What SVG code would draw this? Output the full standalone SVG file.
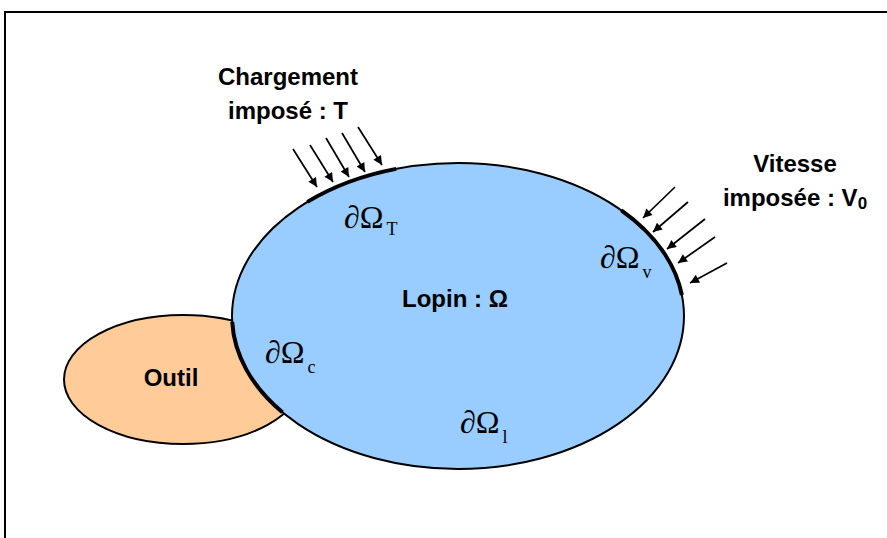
<svg xmlns="http://www.w3.org/2000/svg" width="887" height="538" viewBox="0 0 887 538">
<style>
.lbl{font-family:"Liberation Sans",Arial,sans-serif;font-weight:bold;font-size:24px;fill:#000;text-anchor:middle}
.math{font-family:"Liberation Serif","Times New Roman",serif;font-size:32px;fill:#000}
.sub{font-size:18px}
.bnd{fill:none;stroke:#000;stroke-width:4}
.arr{stroke:#000;stroke-width:1.7;fill:none;marker-end:url(#ah)}
</style>
<defs>
<marker id="ah" viewBox="0 0 10 10" refX="10" refY="5" markerWidth="12" markerHeight="9" markerUnits="userSpaceOnUse" orient="auto">
<path d="M0,0 L10,5 L0,10 z" fill="#000"/>
</marker>
</defs>
<rect width="887" height="538" fill="#fff"/>
<path d="M5,538 V12 H887" fill="none" stroke="#000" stroke-width="2"/>
<g id="outil">
<ellipse cx="183" cy="379.5" rx="119" ry="64.5" fill="#FFCC99" stroke="#000" stroke-width="2"/>
<text class="lbl" x="171" y="386">Outil</text>
</g>
<g id="lopin">
<ellipse cx="458" cy="316" rx="226" ry="153" fill="#99CCFF" stroke="#000" stroke-width="2"/>
<text class="lbl" x="455" y="307">Lopin : Ω</text>
</g>
<g id="boundaries">
<path class="bnd" d="M307.4,201.9 A226,153 0 0 1 396.1,168.9"/>
<path class="bnd" d="M621.4,210.3 A226,153 0 0 1 681.9,295"/>
<path class="bnd" d="M282.4,412.3 A226,153 0 0 1 232.2,321.9"/>
</g>
<g id="labels-math">
<text class="math" x="344" y="228">∂Ω<tspan class="sub" dx="3" dy="7">T</tspan></text>
<text class="math" x="600" y="268">∂Ω<tspan class="sub" dx="3" dy="10">v</tspan></text>
<text class="math" x="265" y="363">∂Ω<tspan class="sub" dx="3" dy="10">c</tspan></text>
<text class="math" x="460" y="433">∂Ω<tspan class="sub" dx="3" dy="10">l</tspan></text>
</g>
<g id="chargement">
<text class="lbl" x="288" y="85">Chargement</text>
<text class="lbl" x="288" y="119">imposé : T</text>
</g>
<g id="vitesse">
<text class="lbl" x="795" y="172">Vitesse</text>
<text class="lbl" x="795" y="206">imposée : V<tspan font-size="17" dy="3">0</tspan></text>
</g>
<g id="connectors">
<line class="arr" x1="293" y1="149" x2="317" y2="187"/>
<line class="arr" x1="310" y1="145" x2="333" y2="182"/>
<line class="arr" x1="326" y1="138" x2="349" y2="177"/>
<line class="arr" x1="342" y1="133" x2="365" y2="172"/>
<line class="arr" x1="358" y1="127" x2="382" y2="165"/>
<line class="arr" x1="675" y1="187" x2="643" y2="218"/>
<line class="arr" x1="688" y1="202" x2="653" y2="232"/>
<line class="arr" x1="705" y1="219" x2="667" y2="249"/>
<line class="arr" x1="715" y1="237" x2="678" y2="263"/>
<line class="arr" x1="727" y1="263" x2="690" y2="283"/>
</g>
</svg>
